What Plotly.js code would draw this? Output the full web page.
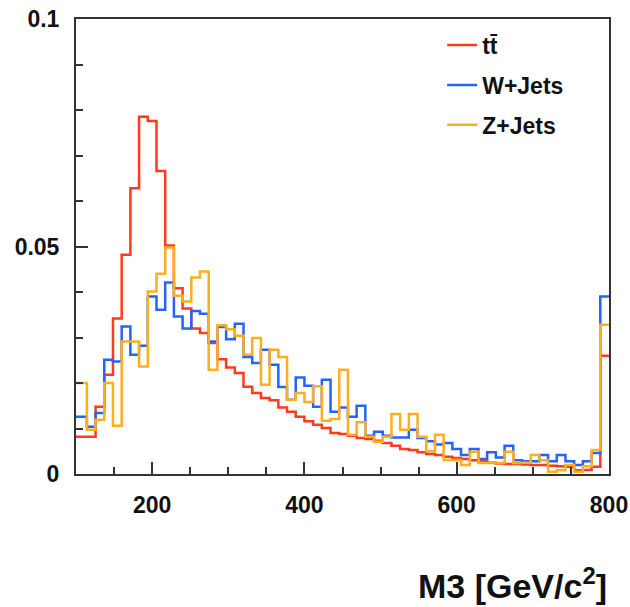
<!DOCTYPE html>
<html>
<head>
<meta charset="utf-8">
<script src="https://cdn.plot.ly/plotly-3.0.1.min.js"></script>
<style>html,body{margin:0;padding:0;background:#fff;}#chart{width:630px;height:607px;}</style>
</head>
<body>
<div id="chart"></div>
<script>
// Histogram definition: 70 bins over 0-800 GeV/c^2; visible bins start at index 8
const histLow = 0;
const histHigh = 800;
const histBins = 70;
const firstBin = 8;

// Normalised M3 distributions, bins 8..69 (last bin includes the overflow spike)
const ttbar = [
  0.0082, 0.0082, 0.0082, 0.0148, 0.0218, 0.0342, 0.0482, 0.0628, 0.0785, 0.0776,
  0.0666, 0.0502, 0.0408, 0.0364, 0.0320, 0.0310, 0.0288, 0.0252, 0.0234, 0.0222,
  0.0192, 0.0178, 0.0167, 0.0162, 0.0146, 0.0137, 0.0126, 0.0116, 0.0108, 0.0101,
  0.0090, 0.0088, 0.0084, 0.0079, 0.0077, 0.0073, 0.0068, 0.0062, 0.0055, 0.0053,
  0.0048, 0.0044, 0.0042, 0.0038, 0.0035, 0.0033, 0.0030, 0.0028, 0.0025, 0.0023,
  0.0022, 0.0022, 0.0021, 0.0020, 0.0020, 0.0018, 0.0017, 0.0016, 0.0008, 0.0009,
  0.0016, 0.0260
];
const wjets = [
  0.0126, 0.0126, 0.0104, 0.0134, 0.0251, 0.0247, 0.0324, 0.0262, 0.0282, 0.0390,
  0.0361, 0.0421, 0.0346, 0.0320, 0.0358, 0.0352, 0.0291, 0.0323, 0.0296, 0.0330,
  0.0257, 0.0244, 0.0273, 0.0240, 0.0191, 0.0163, 0.0212, 0.0194, 0.0148, 0.0207,
  0.0137, 0.0146, 0.0126, 0.0150, 0.0084, 0.0093, 0.0084, 0.0080, 0.0080, 0.0097,
  0.0079, 0.0072, 0.0065, 0.0068, 0.0055, 0.0042, 0.0055, 0.0033, 0.0048, 0.0036,
  0.0062, 0.0030, 0.0028, 0.0028, 0.0042, 0.0028, 0.0042, 0.0028, 0.0020, 0.0028,
  0.0046, 0.0390
];
const zjets = [
  0.0200, 0.0200, 0.0097, 0.0119, 0.0200, 0.0106, 0.0291, 0.0291, 0.0236, 0.0401,
  0.0440, 0.0498, 0.0392, 0.0379, 0.0432, 0.0445, 0.0229, 0.0327, 0.0318, 0.0304,
  0.0262, 0.0299, 0.0196, 0.0273, 0.0257, 0.0163, 0.0178, 0.0158, 0.0193, 0.0117,
  0.0121, 0.0229, 0.0086, 0.0114, 0.0082, 0.0071, 0.0082, 0.0132, 0.0097, 0.0132,
  0.0082, 0.0050, 0.0086, 0.0031, 0.0031, 0.0020, 0.0049, 0.0024, 0.0024, 0.0024,
  0.0049, 0.0024, 0.0025, 0.0042, 0.0030, 0.0005, 0.0008, 0.0020, 0.0005, 0.0017,
  0.0053, 0.0328
];

const seriesNames = ['tt\u0304', 'W+Jets', 'Z+Jets'];
const seriesColors = ['#ff3b1f', '#2463ff', '#ffae1f'];

const xTicks = [200, 400, 600, 800];
const xTickText = ['200', '400', '600', '800'];
const yTicks = [0, 0.05, 0.1];
const yTickText = ['0', '0.05', '0.1'];

const binW = (histHigh - histLow) / histBins;
function stepXY(vals) {
  const xs = [], ys = [];
  vals.forEach((v, i) => { xs.push(histLow + (firstBin + i) * binW); ys.push(v); });
  xs.push(histLow + (firstBin + vals.length) * binW);
  ys.push(vals[vals.length - 1]);
  return {xs, ys};
}

const FONT = 'Liberation Sans, Arial, sans-serif';
const data = [ttbar, wjets, zjets].map((vals, k) => {
  const s = stepXY(vals);
  return {
    x: s.xs, y: s.ys, type: 'scatter', mode: 'lines',
    line: {shape: 'hv', color: seriesColors[k], width: 2.5},
    name: seriesNames[k], legendgroup: 'g' + k,
    hoverinfo: 'skip'
  };
});

const layout = {
  width: 630, height: 607,
  margin: {l: 76, r: 21, t: 19, b: 133},
  paper_bgcolor: '#ffffff', plot_bgcolor: '#ffffff',
  showlegend: true,
  legend: {
    x: 0.687, y: 0.99, xanchor: 'left', yanchor: 'top',
    bgcolor: 'rgba(0,0,0,0)', borderwidth: 0,
    font: {family: FONT, size: 23, color: '#111', weight: 'bold'},
    tracegroupgap: 7, itemwidth: 30
  },
  xaxis: {
    range: [100, 800], showgrid: false, zeroline: false,
    showline: true, linecolor: '#333', linewidth: 2, mirror: true,
    ticks: 'inside', ticklen: 12, tickwidth: 2, tickcolor: '#333',
    tickmode: 'array', tickvals: xTicks, ticktext: xTickText,
    tickfont: {family: FONT, size: 23, color: '#111', weight: 'bold'},
    ticklabelstandoff: 9,
    minor: {dtick: 50, tick0: 100, ticks: 'inside', ticklen: 7, tickwidth: 2, tickcolor: '#333', showgrid: false}
  },
  yaxis: {
    range: [0, 0.1], showgrid: false, zeroline: false,
    showline: true, linecolor: '#333', linewidth: 2, mirror: true,
    ticks: 'inside', ticklen: 12, tickwidth: 2, tickcolor: '#333',
    tickmode: 'array', tickvals: yTicks, ticktext: yTickText,
    tickfont: {family: FONT, size: 23, color: '#111', weight: 'bold'},
    ticklabelstandoff: 10,
    minor: {dtick: 0.01, tick0: 0, ticks: 'inside', ticklen: 7, tickwidth: 2, tickcolor: '#333', showgrid: false}
  },
  annotations: [{
    text: 'M3 [GeV/c<sup>2</sup>]', xref: 'paper', yref: 'paper',
    x: 1.0, y: 0, xanchor: 'right', yanchor: 'top', yshift: -86, showarrow: false,
    font: {family: FONT, size: 34, color: '#111', weight: 'bold'}
  }]
};

Plotly.newPlot('chart', data, layout, {staticPlot: true, displayModeBar: false});
</script>
</body>
</html>
